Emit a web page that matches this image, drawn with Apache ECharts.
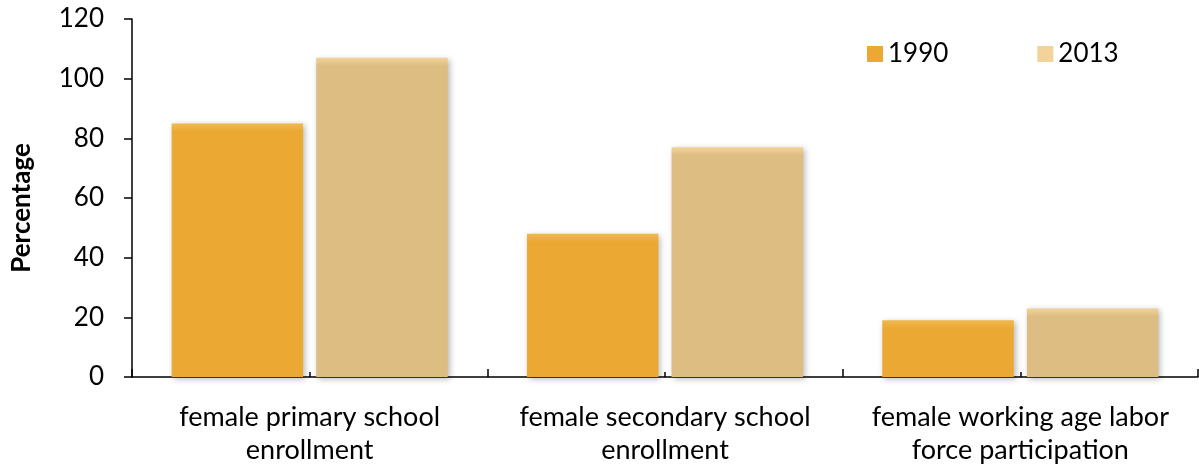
<!DOCTYPE html>
<html>
<head>
<meta charset="utf-8">
<style>html,body{margin:0;padding:0;background:#fff;}#c{width:1199px;height:469px;}</style>
<script src="https://cdn.jsdelivr.net/npm/echarts@6/dist/echarts.min.js"></script>
</head>
<body>
<div id="c"></div>
<script>
const categories = ['female primary school\nenrollment', 'female secondary school\nenrollment', 'female working age labor\nforce participation'];
const series1990 = [85, 48, 19];
const series2013 = [107, 77, 23];
const yTicks = [0, 20, 40, 60, 80, 100, 120];
const seriesNames = ['1990', '2013'];

const FONT = 'Lato, "Open Sans", sans-serif';
const chart = echarts.init(document.getElementById('c'), null, {renderer: 'canvas'});
const yMax = 120, plotH = 358;
function topGlow(v, base, light) {
  const px = v / yMax * plotH;
  const s = Math.min(0.5, 8 / px);
  return {value: v, itemStyle: {color: new echarts.graphic.LinearGradient(0, 0, 0, 1, [
    {offset: 0, color: light}, {offset: s, color: base}, {offset: 1, color: base}])}};
}
const shadow = {shadowBlur: 6, shadowColor: 'rgba(0,0,0,0.28)', shadowOffsetX: 2, shadowOffsetY: 2};
chart.setOption({
  animation: false,
  grid: {left: 132, right: 1, top: 19, bottom: 92, containLabel: false},
  legend: {
    left: 862, top: 36, itemWidth: 16, itemHeight: 16, itemGap: 89,
    textStyle: {fontFamily: FONT, fontSize: 26, color: '#000'},
    data: [
      {name: seriesNames[0], icon: 'rect', itemStyle: {color: '#EBA933'}},
      {name: seriesNames[1], icon: 'rect', itemStyle: {color: '#F2D49B'}}
    ]
  },
  xAxis: [{
    type: 'category', data: categories, position: 'bottom',
    axisLine: {lineStyle: {color: '#000', width: 1.5}},
    axisTick: {show: true, inside: true, length: 8, lineStyle: {color: '#000', width: 1.5}},
    axisLabel: {fontFamily: FONT, fontSize: 27, color: '#000', lineHeight: 33, margin: 24, interval: 0}
  }, {
    type: 'category', data: categories, position: 'bottom',
    axisLine: {show: false},
    axisTick: {show: true, inside: true, length: 5, alignWithLabel: true, lineStyle: {color: '#000', width: 1.5}},
    axisLabel: {show: false}
  }],
  yAxis: {
    type: 'value', min: yTicks[0], max: yTicks[yTicks.length - 1], interval: 20,
    name: 'Percentage', nameLocation: 'middle', nameGap: 97, nameRotate: 90,
    nameTextStyle: {fontFamily: FONT, fontSize: 26, fontWeight: 'bold', color: '#000', padding: [0, 0, 0, -20]},
    axisLine: {show: true, lineStyle: {color: '#000', width: 1.5}},
    axisTick: {show: true, length: 8, lineStyle: {color: '#000', width: 1.5}},
    splitLine: {show: false},
    axisLabel: {fontFamily: FONT, fontSize: 26, color: '#000', margin: 28}
  },
  series: [{
    name: seriesNames[0], type: 'bar', xAxisIndex: 0, barWidth: '37%', barGap: '10%',
    itemStyle: Object.assign({color: '#EBA933'}, shadow),
    data: series1990.map(v => topGlow(v, '#EBA933', '#F0B94E'))
  }, {
    name: seriesNames[1], type: 'bar', xAxisIndex: 0, barWidth: '37%', barGap: '10%',
    itemStyle: Object.assign({color: '#DDBD81'}, shadow),
    data: series2013.map(v => topGlow(v, '#DDBD81', '#F2D49B'))
  }]
});
</script>
</body>
</html>
